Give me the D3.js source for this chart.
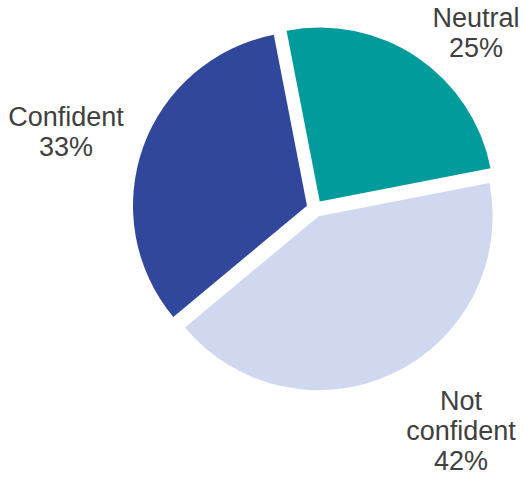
<!DOCTYPE html>
<html>
<head>
<meta charset="utf-8">
<script src="https://cdn.jsdelivr.net/npm/d3@7"></script>
<style>
  html, body { margin: 0; padding: 0; background: #fff; }
  svg { display: block; }
</style>
</head>
<body>
<svg id="chart" width="525" height="477"></svg>
<script>
// ---- data ----
const categories = ["Neutral", "Not confident", "Confident"];
const values = [25, 42, 33];
const labelLines = [["Neutral", "25%"], ["Not", "confident", "42%"], ["Confident", "33%"]];
const colors = ["#009b9a", "#d0d8f0", "#31479b"];

// ---- layout ----
const W = 525, H = 477;
const cx = 315, cy = 208.5;
const radius = 174;
const explode = 8.5;
const startDeg = -11;
// label anchor (center of text block) relative to pie center
const labelAnchors = [[161, -176], [146, 222], [-249, -77]];
const lineHeight = 30;
const fontSize = 27;

const svg = d3.select("#chart");
const g = svg.append("g").attr("transform", `translate(${cx},${cy})`);

const pie = d3.pie().sort(null)
  .startAngle(startDeg * Math.PI / 180)
  .endAngle(startDeg * Math.PI / 180 + 2 * Math.PI)
  .value(d => d.value);

const data = categories.map((c, i) => ({ name: c, value: values[i], color: colors[i], lines: labelLines[i], anchor: labelAnchors[i] }));
const arcs = pie(data);
const arc = d3.arc().innerRadius(0).outerRadius(radius);

g.selectAll("path.slice")
  .data(arcs)
  .join("path")
  .attr("class", "slice")
  .attr("d", arc)
  .attr("fill", d => d.data.color)
  .attr("transform", d => {
    const m = (d.startAngle + d.endAngle) / 2;
    return `translate(${explode * Math.sin(m)},${-explode * Math.cos(m)})`;
  });

const labels = g.selectAll("text.lbl")
  .data(arcs)
  .join("text")
  .attr("class", "lbl")
  .attr("text-anchor", "middle")
  .attr("font-family", "'Liberation Sans', Arial, sans-serif")
  .attr("font-size", fontSize)
  .attr("fill", "#404040");

labels.each(function(d) {
  const t = d3.select(this);
  const n = d.data.lines.length;
  const [ax, ay] = d.data.anchor;
  const blockH = (n - 1) * lineHeight;
  const firstBase = ay - blockH / 2 + fontSize * 0.36;
  d.data.lines.forEach((ln, i) => {
    t.append("tspan")
      .attr("x", ax)
      .attr("y", firstBase + i * lineHeight)
      .text(ln);
  });
});
</script>
</body>
</html>
